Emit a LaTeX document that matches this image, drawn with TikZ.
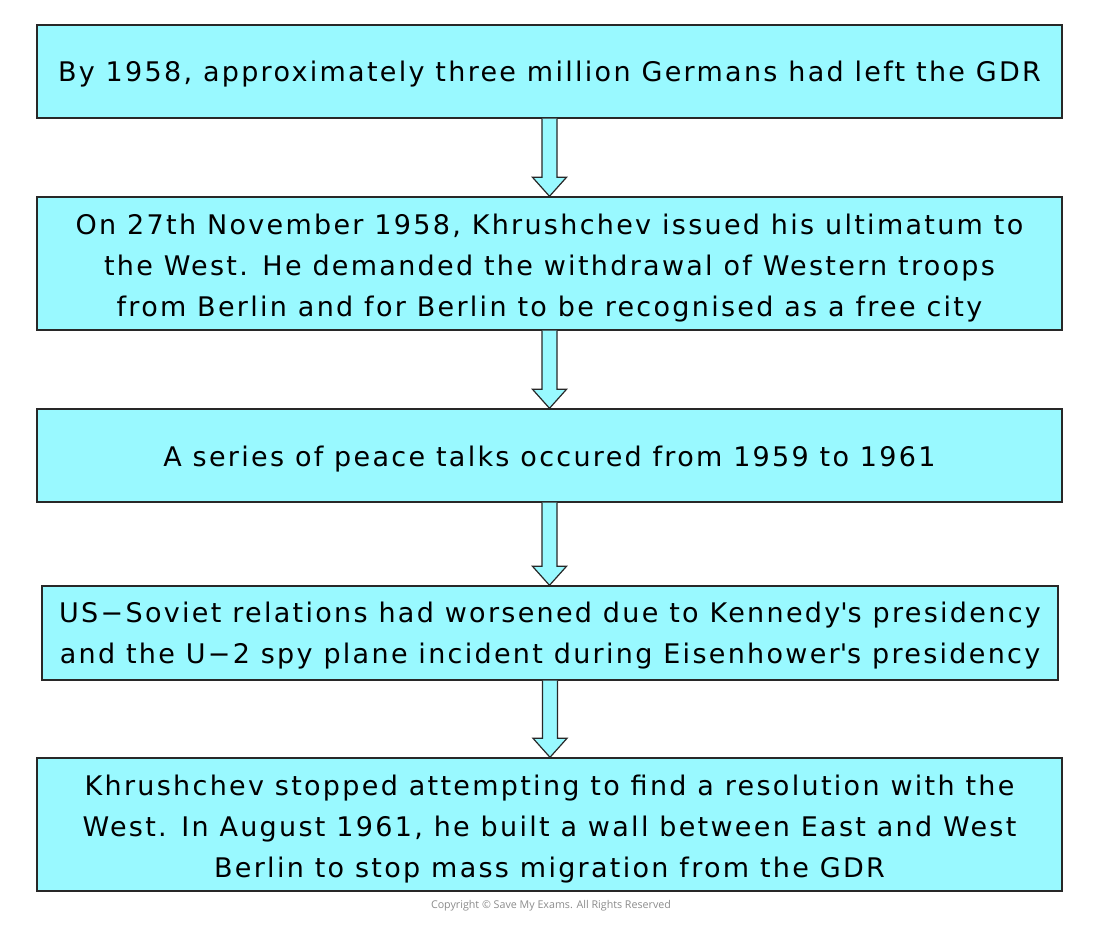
\documentclass[tikz,border=0pt]{standalone}
\usepackage{fontspec}
\setmainfont{DejaVu Sans}[LetterSpace=8.5]
\newfontfamily\copyfont{Open Sans}
\usetikzlibrary{calc}
\definecolor{boxfill}{RGB}{153,249,255}
\definecolor{boxline}{RGB}{40,40,40}
\tikzset{
  stepbox/.style={draw=boxline, fill=boxfill, line width=1.4pt, rectangle, inner sep=0pt},
  steptext/.style={inner sep=0pt, align=center, font=\fontsize{27}{41}\selectfont},
  flowarrow/.style={draw=boxline, fill=boxfill, line width=1.2pt, line join=miter}
}
\newcommand{\blockarrow}[2]{%
  \path[flowarrow] let \p1=(#1.south), \p2=(#2.north) in
    (\x1-7.5pt,\y1) -- (\x1-7.5pt,\y2+19pt) -- (\x1-17pt,\y2+19pt) -- (\x1,\y2)
    -- (\x1+17pt,\y2+19pt) -- (\x1+7.5pt,\y2+19pt) -- (\x1+7.5pt,\y1);}
\begin{document}
\begin{tikzpicture}[x=1pt,y=1pt]
\path[fill=white] (0,0) rectangle (1100,925);
\useasboundingbox (0,0) rectangle (1100,925);
\node[stepbox, minimum width=1025pt, minimum height=93pt] (b1) at (549.5,853.5) {};
\node[steptext] (t1) at ([yshift=-2.5pt]b1.center)
  {By 1958, approximately three million Germans had left the GDR};
\node[stepbox, minimum width=1025pt, minimum height=133pt] (b2) at (549.5,661.5) {};
\node[steptext] (t2) at ([yshift=-5pt]b2.center)
  {On 27th November 1958, Khrushchev issued his ultimatum to\\the West. He demanded the withdrawal of Western troops\\from Berlin and for Berlin to be recognised as a free city};
\node[stepbox, minimum width=1025pt, minimum height=93pt] (b3) at (549.5,469.5) {};
\node[steptext] (t3) at ([yshift=-4pt]b3.center)
  {A series of peace talks occured from 1959 to 1961};
\node[stepbox, minimum width=1016pt, minimum height=94pt] (b4) at (550,292) {};
\node[steptext] (t4) at ([yshift=-3pt]b4.center)
  {US−Soviet relations had worsened due to Kennedy\textquotesingle s presidency\\and the U−2 spy plane incident during Eisenhower\textquotesingle s presidency};
\node[stepbox, minimum width=1025pt, minimum height=133pt] (b5) at (549.5,100.5) {};
\node[steptext] (t5) at ([yshift=-5pt]b5.center)
  {Khrushchev stopped attempting to find a resolution with the\\West. In August 1961, he built a wall between East and West\\Berlin to stop mass migration from the GDR};
\blockarrow{b1}{b2}
\blockarrow{b2}{b3}
\blockarrow{b3}{b4}
\blockarrow{b4}{b5}
\node[font=\copyfont\fontsize{10.7}{12}\selectfont, text=black!45] (copy) at (551,19)
  {Copyright \textcopyright{} Save My Exams. All Rights Reserved};
\end{tikzpicture}
\end{document}
